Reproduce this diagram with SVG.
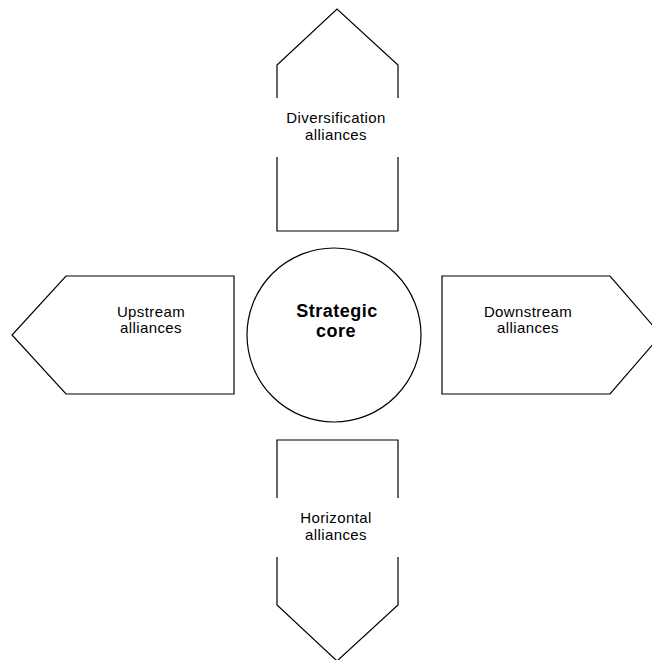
<svg xmlns="http://www.w3.org/2000/svg" width="652" height="660" viewBox="0 0 652 660">
<style>
.s{fill:none;stroke:#000;stroke-width:1.2}
.t{font-family:"Liberation Sans",Arial,sans-serif;font-size:15px;letter-spacing:0.4px;fill:#000;text-anchor:middle}
.b{font-family:"Liberation Sans",Arial,sans-serif;font-size:18px;font-weight:bold;letter-spacing:0.5px;fill:#000;text-anchor:middle}
</style>
<rect width="652" height="660" fill="#fff"/>
<g id="diversification">
<polyline class="s" points="277,98 277,65 337,9 398,65 398,98"/>
<polyline class="s" points="277,157 277,231 398,231 398,157"/>
<text class="t" x="336" y="123">Diversification</text>
<text class="t" x="336" y="140">alliances</text>
</g>
<g id="upstream">
<polygon class="s" points="234,276 66,276 12,335 66,394 234,394"/>
<text class="t" x="151" y="317">Upstream</text>
<text class="t" x="151" y="333">alliances</text>
</g>
<g id="core">
<circle class="s" cx="334" cy="335" r="87"/>
<text class="b" x="337" y="317">Strategic</text>
<text class="b" x="336" y="337">core</text>
</g>
<g id="downstream">
<polygon class="s" points="442,276 610,276 661,335 610,394 442,394"/>
<text class="t" x="528" y="317">Downstream</text>
<text class="t" x="528" y="333">alliances</text>
</g>
<g id="horizontal">
<polyline class="s" points="277,498 277,440 398,440 398,498"/>
<polyline class="s" points="277,557 277,605 337,661 398,605 398,557"/>
<text class="t" x="336" y="523">Horizontal</text>
<text class="t" x="336" y="540">alliances</text>
</g>
<g id="connectors"></g>
</svg>
